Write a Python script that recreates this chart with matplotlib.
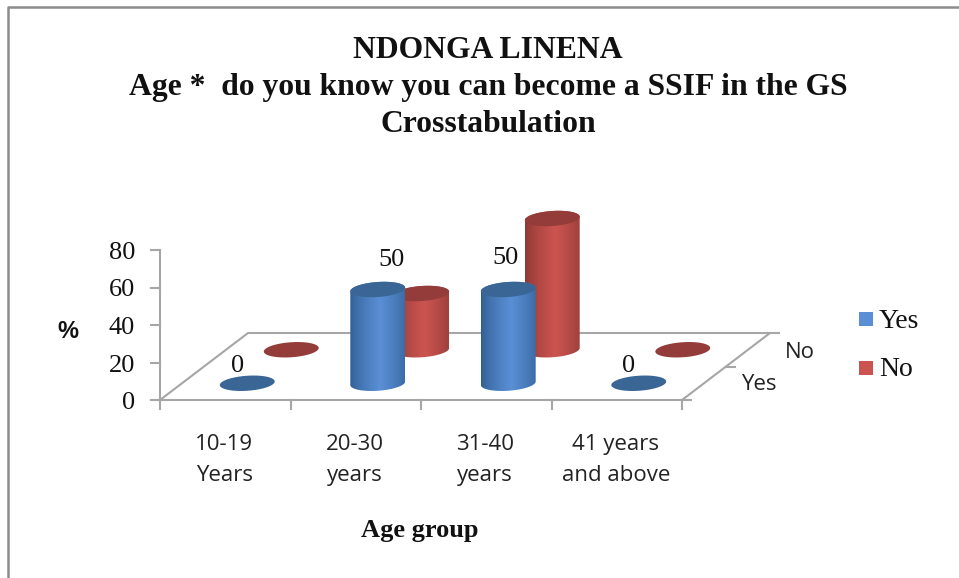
import numpy as np
import matplotlib
matplotlib.use("Agg")
import matplotlib.pyplot as plt
from matplotlib.patches import Polygon, Rectangle

# Data
categories = ["10-19\nYears", "20-30\nyears", "31-40\nyears", "41 years\nand above"]
series_names = ["Yes", "No"]
yes_values = [0, 50, 50, 0]
no_values = [0, 30, 70, 0]
yticks = [0, 20, 40, 60, 80]
data_labels = ["0", "50", "50", "0"]

# 3D layout, in image pixels
W, H = 959, 578
X0, Y0 = 160, 400
CAT_W = 130.5
DEPTH_DX, DEPTH_DY = 44, -33.5
PX_PER_UNIT = 1.875
RX, RY = 27.5, 7.5
TILT = np.radians(-4)
LINE = "#a6a6a6"
SERIF = "Liberation Serif"
SANS = "Open Sans"

BLUE = {"edge": "#2f5d90", "mid": "#5a8fd6", "top": "#3a6696"}
RED = {"edge": "#8a3733", "mid": "#cc5450", "top": "#933c39"}


def project(cat, depth, value=0):
    x = X0 + cat * CAT_W + depth * DEPTH_DX
    y = Y0 + depth * DEPTH_DY - value * PX_PER_UNIT
    return x, y


def ellipse_pts(cx, cy, t):
    x = cx + RX * np.cos(t) * np.cos(TILT) - RY * np.sin(t) * np.sin(TILT)
    y = cy + RX * np.cos(t) * np.sin(TILT) + RY * np.sin(t) * np.cos(TILT)
    return np.column_stack([x, y])


def gradient(col):
    c0 = np.array(matplotlib.colors.to_rgb(col["edge"]))
    c1 = np.array(matplotlib.colors.to_rgb(col["mid"]))
    u = np.linspace(0, 1, 120)
    w = np.clip(1 - np.abs(u - 0.55) / 0.55, 0, 1) ** 0.7
    return (c0[None, :] * (1 - w[:, None]) + c1[None, :] * w[:, None])[None, :, :]


def cylinder(ax, cat, depth, value, col, z):
    cx, cy = project(cat + 0.5, depth)
    _, ty = project(cat + 0.5, depth, value)
    if value > 0:
        # y grows downward here, so t in 0..pi is the lower half of the base
        low = ellipse_pts(cx, cy, np.linspace(0, np.pi, 60))
        up = ellipse_pts(cx, ty, np.linspace(np.pi, 2 * np.pi, 60))
        body = Polygon(np.vstack([low, up]), closed=True, transform=ax.transData,
                       fc="none", ec="none")
        ax.add_patch(body)
        im = ax.imshow(gradient(col), extent=[cx - RX, cx + RX, cy + RY + 4, ty - RY - 4],
                       aspect="auto", zorder=z, interpolation="bilinear")
        im.set_clip_path(body)
    top = ellipse_pts(cx, ty, np.linspace(0, 2 * np.pi, 120))
    ax.add_patch(Polygon(top, closed=True, fc=col["top"], ec="none", zorder=z + 0.1))


fig = plt.figure(figsize=(W / 100, H / 100), dpi=100)
ax = fig.add_axes([0, 0, 1, 1])

# outer chart border (left and top only are visible)
ax.plot([7.5, 7.5, W], [H, 7, 7], color="#8c8c8c", lw=1.8, zorder=1)

# floor
fl, ff = project(0, 0), project(4, 0)
bl, br = project(0, 2), project(4, 2)
ax.plot([fl[0], bl[0], br[0], ff[0], fl[0]], [fl[1], bl[1], br[1], ff[1], fl[1]],
        color=LINE, lw=1.5, zorder=2)

# value axis and ticks
for v in yticks:
    x, y = project(0, 0, v)
    ax.plot([x - 9, x], [y, y], color=LINE, lw=1.5, zorder=2)
    ax.text(x - 25, y + 3, str(v), ha="right", va="center", family=SERIF, fontsize=19, color="#111111")
ax.plot([X0, X0], [project(0, 0, yticks[-1])[1], Y0], color=LINE, lw=1.5, zorder=2)

# category ticks and labels
for i in range(len(categories) + 1):
    x, y = project(i, 0)
    ax.plot([x, x], [y, y + 9], color=LINE, lw=1.5, zorder=2)
for i, cat in enumerate(categories):
    x, y = project(i + 0.5, 0)
    ax.text(x - 1, 460, cat, ha="center", va="center", family=SANS,
            fontsize=16, linespacing=1.6, color="#222222")

# depth ticks and labels
for d in range(3):
    x, y = project(4, d)
    ax.plot([x, x + 9], [y, y], color=LINE, lw=1.5, zorder=2)
ax.text(759, 385, series_names[0], ha="center", va="center", family=SANS, fontsize=16, color="#222222")
ax.text(800, 352, series_names[1], ha="center", va="center", family=SANS, fontsize=16, color="#222222")

# cylinders, back row first
for i, v in enumerate(no_values):
    cylinder(ax, i, 1.5, v, RED, 3 + i * 0.2)
for i, v in enumerate(yes_values):
    cylinder(ax, i, 0.5, v, BLUE, 5 + i * 0.2)

# data labels, hand placed like in the original
label_shift = [(-10, -17), (14, -29), (-3, -32), (-10, -17)]
for i, txt in enumerate(data_labels):
    x, y = project(i + 0.5, 0.5, yes_values[i])
    ax.text(x + label_shift[i][0], y + label_shift[i][1], txt, ha="center", va="center",
            family=SERIF, fontsize=19, color="#111111", zorder=8)

# legend
for name, col, y in zip(series_names, [BLUE, RED], [319, 368]):
    ax.add_patch(Rectangle((859, y - 7), 14, 14, fc=col["mid"], ec="none", zorder=8))
    ax.text(879, y + 2, name, ha="left", va="center", family=SERIF, fontsize=20, color="#111111")

# titles
ax.text(488, 50, "NDONGA LINENA", ha="center", va="center", family=SERIF, weight="bold",
        fontsize=22.8, color="#111111")
ax.text(488, 87, "Age *  do you know you can become a SSIF in the GS", ha="center", va="center",
        family=SERIF, weight="bold", fontsize=22.8, color="#111111")
ax.text(488, 124, "Crosstabulation", ha="center", va="center", family=SERIF, weight="bold",
        fontsize=22.8, color="#111111")
ax.text(68, 332, "%", ha="center", va="center", family="Liberation Sans", weight="bold",
        fontsize=17, color="#111111")
ax.text(420, 530, "Age group", ha="center", va="center", family=SERIF, weight="bold",
        fontsize=19, color="#111111")

ax.set_xlim(0, W)
ax.set_ylim(H, 0)
ax.axis("off")
fig.savefig("out.png", dpi=100, facecolor="white")
